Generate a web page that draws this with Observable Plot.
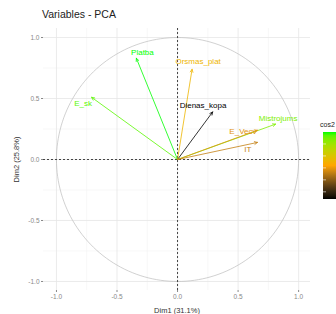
<!DOCTYPE html>
<html>
<head>
<meta charset="utf-8">
<script src="https://cdn.jsdelivr.net/npm/d3@7"></script>
<script src="https://cdn.jsdelivr.net/npm/@observablehq/plot@0.6"></script>
<style>
  html, body { margin: 0; padding: 0; background: white; overflow: hidden; }
  #wrap { position: relative; width: 336px; height: 314px; font-family: "Liberation Sans", Arial, sans-serif; }
  #title { position: absolute; left: 42px; top: 8px; font-size: 10.5px; color: #222; white-space: nowrap; }
  #legend { position: absolute; left: 322px; top: 121px; }
  #legtitle { font-size: 7px; color: #222; white-space: nowrap; margin-left: -2px; }
</style>
</head>
<body>
<div id="wrap">
  <div id="chart"></div>
  <div id="title">Variables - PCA</div>
  <div id="legend"><div id="legtitle">cos2</div><div id="bar"></div></div>
</div>
<script>
const names  = ["Platba", "E_sk", "Orsmas_plat", "Dienas_kopa", "Mistrojums", "E_Vecv", "IT"];
const dim1   = [-0.34, -0.71, 0.12, 0.29, 0.81, 0.66, 0.66];
const dim2   = [0.83, 0.51, 0.74, 0.39, 0.29, 0.24, 0.14];
const cos2   = [0.80, 0.77, 0.56, 0.24, 0.74, 0.49, 0.46];
const labelX = [-0.29, -0.78, 0.17, 0.21, 0.83, 0.54, 0.58];
const labelY = [0.88, 0.46, 0.80, 0.44, 0.34, 0.23, 0.08];
const majorTicks = [-1, -0.5, 0, 0.5, 1];
const minorTicks = [-0.75, -0.25, 0.25, 0.75];
const legendTicks = [0.3, 0.4, 0.5, 0.6, 0.7];

const idx = d3.range(names.length);
const circle = d3.range(0, 361, 2).map(a => a * Math.PI / 180);

const plot = Plot.plot({
  width: 336, height: 314,
  marginLeft: 43, marginRight: 26, marginTop: 28, marginBottom: 24,
  style: { fontFamily: "Liberation Sans, Arial, sans-serif", background: "white" },
  x: { domain: [-1.107, 1.098] },
  y: { domain: [-1.074, 1.074] },
  color: { type: "linear", domain: [0.24, 0.52, 0.80], range: ["black", "orange", "#00ff00"], interpolate: "lab" },
  marks: [
    Plot.gridX(minorTicks, { stroke: "#f2f2f2", strokeOpacity: 1, strokeWidth: 0.6 }),
    Plot.gridY(minorTicks, { stroke: "#f2f2f2", strokeOpacity: 1, strokeWidth: 0.6 }),
    Plot.gridX(majorTicks, { stroke: "#e6e6e6", strokeOpacity: 1, strokeWidth: 0.8 }),
    Plot.gridY(majorTicks, { stroke: "#e6e6e6", strokeOpacity: 1, strokeWidth: 0.8 }),
    Plot.axisX({ ticks: majorTicks, tickFormat: d => d.toFixed(1), tickSize: 2, tickPadding: 2,
      fontSize: 6.5, color: "#888", label: "Dim1 (31.1%)", labelAnchor: "center", labelArrow: "none", labelOffset: 22 }),
    Plot.axisY({ ticks: majorTicks, tickFormat: d => d.toFixed(1), tickSize: 2, tickPadding: 2,
      fontSize: 6.5, color: "#888", label: "Dim2 (25.8%)", labelAnchor: "center", labelArrow: "none", labelOffset: 30 }),
    Plot.line(circle, { x: a => Math.cos(a), y: a => Math.sin(a), stroke: "#bdbdbd", strokeWidth: 0.7 }),
    Plot.ruleX([0], { stroke: "#444", strokeWidth: 1, strokeDasharray: "2,2" }),
    Plot.ruleY([0], { stroke: "#444", strokeWidth: 1, strokeDasharray: "2,2" }),
    Plot.arrow(idx, { x1: () => 0, y1: () => 0, x2: i => dim1[i], y2: i => dim2[i],
      stroke: i => cos2[i], strokeWidth: 0.8, headLength: 6, headAngle: 50 }),
    Plot.text(idx, { x: i => labelX[i], y: i => labelY[i], text: i => names[i],
      fill: i => cos2[i], fontSize: 8 })
  ]
});
document.getElementById("chart").appendChild(plot);
plot.querySelectorAll('[aria-label="x-axis label"] text, [aria-label="y-axis label"] text').forEach(t => {
  t.setAttribute("fill", "#333"); t.style.fontSize = "7.5px";
});

// vertical colorbar from the plot's color scale
const cs = plot.scale("color");
const [lo, hi] = [cos2.reduce((a, b) => Math.min(a, b)), cos2.reduce((a, b) => Math.max(a, b))];
const barW = 17, barH = 67;
const svg = d3.create("svg").attr("width", 14).attr("height", barH + 4).style("display", "block").style("margin-top", "4px").style("margin-left", "1px");
const grad = svg.append("defs").append("linearGradient").attr("id", "cg").attr("x1", 0).attr("y1", 1).attr("x2", 0).attr("y2", 0);
d3.range(0, 1.0001, 0.05).forEach(t => {
  grad.append("stop").attr("offset", t).attr("stop-color", cs.apply(lo + t * (hi - lo)));
});
svg.append("rect").attr("width", barW).attr("height", barH).attr("fill", "url(#cg)");
const yL = d3.scaleLinear().domain([lo, hi]).range([barH, 0]);
legendTicks.forEach(v => {
  svg.append("line").attr("x1", 0).attr("x2", 3).attr("y1", yL(v)).attr("y2", yL(v)).attr("stroke", "white").attr("stroke-width", 0.6);
});
document.getElementById("bar").appendChild(svg.node());
</script>
</body>
</html>
